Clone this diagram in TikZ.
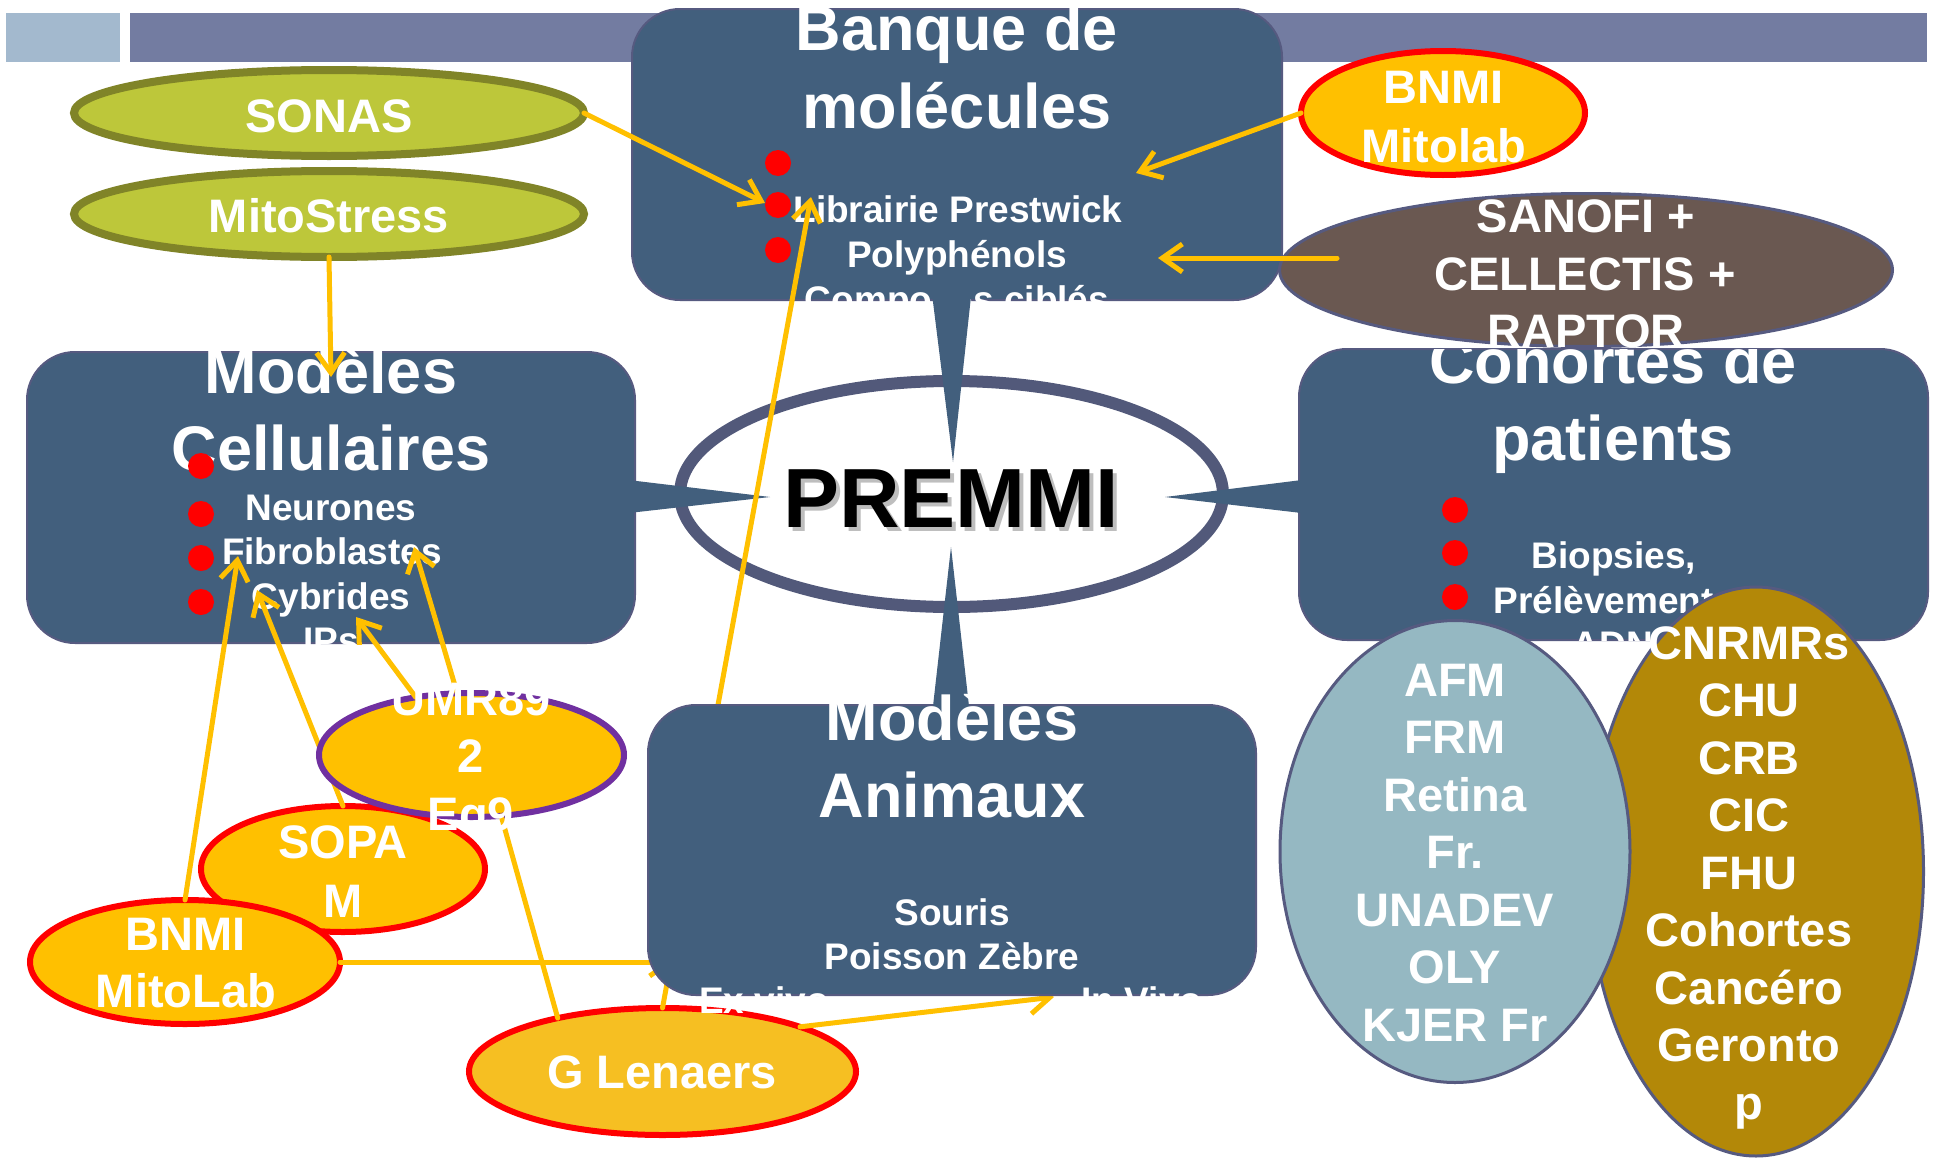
\documentclass[tikz,border=0pt]{standalone}
\usepackage{fontspec}
\setmainfont{Liberation Sans}
\usetikzlibrary{shapes.geometric,arrows.meta}

\definecolor{boxblue}{RGB}{66,95,125}
\definecolor{boxline}{RGB}{86,90,128}
\definecolor{premline}{RGB}{82,89,122}
\definecolor{hdrlight}{RGB}{163,185,206}
\definecolor{hdrdark}{RGB}{115,124,161}
\definecolor{yel}{RGB}{255,192,0}
\definecolor{glenfill}{RGB}{246,191,34}
\definecolor{sonasfill}{RGB}{189,199,58}
\definecolor{sonasline}{RGB}{128,132,40}
\definecolor{sanofifill}{RGB}{106,88,81}
\definecolor{afmfill}{RGB}{149,184,194}
\definecolor{cnrfill}{RGB}{179,136,8}
\definecolor{purp}{RGB}{112,48,160}
\definecolor{shadowgray}{RGB}{190,190,190}

\newcommand\titlefnt{\fontsize{63}{63}\selectfont\bfseries}
\newcommand\ellfnt{\fontsize{47}{47}\selectfont\bfseries}
\newcommand\bulfnt{\fontsize{37}{37}\selectfont\bfseries}
\newcommand\premfnt{\fontsize{84}{84}\selectfont\bfseries}

\begin{document}
\begin{tikzpicture}[x=1pt,y=-1pt,
  box/.style={rectangle,draw=boxline,line width=2pt,fill=boxblue,rounded corners=48pt,inner sep=0,outer sep=0},
  ell/.style={ellipse,inner sep=0,outer sep=0},
  yellell/.style={ell,fill=yel,draw=red,line width=6pt},
  tt/.style={text=white,font=\titlefnt,anchor=base,inner sep=0},
  et/.style={text=white,font=\ellfnt,anchor=base,inner sep=0},
  bt/.style={text=white,font=\bulfnt,anchor=base,inner sep=0},
  wedge/.style={fill=boxblue},
  dot/.style={fill=red},
  arr/.style={draw=yel,line width=5pt,line cap=round,-{Straight Barb[length=20pt,width=28pt]}},
  plain/.style={draw=yel,line width=5pt,line cap=round}
]
\useasboundingbox (0,0) rectangle (1933,1159);
\fill[white] (0,0) rectangle (1933,1159);

% header
\fill[hdrlight] (6,12.5) rectangle (120,61.5);
\fill[hdrdark] (130,12.5) rectangle (1927,61.5);

% main boxes
\node[box,minimum width=650pt,minimum height=291pt] (banque) at (957,154.5) {};
\node[box,minimum width=608pt,minimum height=291pt] (cellu) at (331,497.5) {};

% PREMMI ellipse
\node[ell,draw=premline,fill=white,line width=12pt,minimum width=543pt,minimum height=226pt] (premmi) at (951.5,494) {};

% SANOFI
\node[ell,fill=sanofifill,draw=boxline,line width=3pt,minimum width=613pt,minimum height=153pt] (sanofi) at (1586,270) {};
\node[et] (sa1) at (1586,232) {SANOFI +};
\node[et] (sa2) at (1585,290) {CELLECTIS +};
\node[et] (sa3) at (1586,347) {RAPTOR};

% Cohortes box
\node[box,minimum width=629pt,minimum height=291pt] (coh) at (1613.5,494.5) {};
\begin{scope}
\clip[rounded corners=48pt] (1299,349) rectangle (1928,640);
\node[tt] (co1) at (1613,383) {Cohortes de};
\node[tt] (co2) at (1613,460) {patients};
\node[bt] (co3) at (1614,568) {Biopsies,};
\node[bt] (co4) at (1614,613) {Prélèvements};
\node[bt] (co5) at (1613,657) {ADN};
\fill[dot] (1455,510) circle (13);
\fill[dot] (1455,553) circle (13);
\fill[dot] (1455,597) circle (13);
\end{scope}

% Banque text
\node[tt] (bq1) at (957,50) {Banque de};
\node[tt] (bq2) at (957,128) {molécules};
\node[bt] (bq3) at (958,222) {Librairie Prestwick};
\node[bt] (bq4) at (957,267) {Polyphénols};
\node[bt] (bq5) at (957,312) {Composés ciblés};
\fill[dot] (778,163) circle (13);
\fill[dot] (778,205) circle (13);
\fill[dot] (778,250) circle (13);

% Cellulaires text
\node[tt] (ce1) at (331,393) {Modèles};
\node[tt] (ce2) at (331,470) {Cellulaires};
\node[bt] (ce3) at (331,520) {Neurones};
\node[bt] (ce4) at (332,564.5) {Fibroblastes};
\node[bt] (ce5) at (331,609) {Cybrides};
\node[bt] (ce6) at (331,653.5) {IPs};
\fill[dot] (201,466) circle (13);
\fill[dot] (201,514) circle (13);
\fill[dot] (201,558) circle (13);
\fill[dot] (201,602) circle (13);

% wedges
\fill[wedge] (930,278) -- (973,278) -- (953,462) -- cycle;
\fill[wedge] (620,479) -- (770,497) -- (620,514) -- cycle;
\fill[wedge] (1310,479) -- (1165,497) -- (1310,514) -- cycle;

% PREMMI text
\node[font=\premfnt,text=shadowgray,anchor=base,inner sep=0] (premsh) at (955,531) {PREMMI};
\node[font=\premfnt,text=black,anchor=base,inner sep=0] (premtxt) at (951,527) {PREMMI};

% top-left and top-right ellipses
\node[ell,fill=sonasfill,draw=sonasline,line width=8pt,minimum width=510pt,minimum height=86pt] (sonas) at (329,113) {};
\node[et] (so1) at (329,132) {SONAS};
\node[ell,fill=sonasfill,draw=sonasline,line width=8pt,minimum width=510pt,minimum height=86pt] (mito) at (329,214) {};
\node[et] (mi1) at (329,232) {MitoStress};
\node[yellell,minimum width=284pt,minimum height=124pt] (bnmione) at (1443,113) {};
\node[et] (bn1) at (1444,103) {BNMI};
\node[et] (bn2) at (1444,162) {Mitolab};

% coordinates
\coordinate (tipA) at (765,203);
\coordinate (tipB) at (331,377);
\coordinate (tipC) at (1136,173);
\coordinate (srcD) at (1337,258);
\coordinate (tipD) at (1158,258);
\coordinate (tipE) at (811,197);
\coordinate (tipF) at (674,962);
\coordinate (tipG) at (238,556);
\coordinate (tipH) at (257,590);
\coordinate (tipI) at (356,617);
\coordinate (tipJ) at (414,547);
\coordinate (tipL) at (1054,997);

% lower-left ellipses
\node[yellell,minimum width=284pt,minimum height=126pt] (sopam) at (343,869) {};
\draw[arr] (sopam.north) -- (tipH);
\node[ell,fill=yel,draw=purp,line width=6pt,minimum width=305pt,minimum height=124pt] (umr) at (471.5,755) {};
\node[yellell,minimum width=310pt,minimum height=124pt] (bnmitwo) at (185,962) {};
\node[ell,fill=glenfill,draw=red,line width=6pt,minimum width=387pt,minimum height=127pt] (glen) at (662.5,1071.5) {};

% lines behind Modeles Animaux
\draw[arr] (glen.north) -- (tipE);
\draw[arr] (bnmitwo.east) -- (tipF);
\draw[arr] (glen.18) -- (tipL);

% Modeles Animaux
\node[box,minimum width=608pt,minimum height=290pt] (anim) at (952,850) {};
\fill[wedge] (932,715) -- (970,715) -- (951,547) -- cycle;
\node[tt] (an1) at (952,740) {Modèles};
\node[tt] (an2) at (952,817) {Animaux};
\node[bt] (an3) at (952,925) {Souris};
\node[bt] (an4) at (952,969) {Poisson Zèbre};
\node[bt] (an5) at (764,1013) {Ex vivo};
\node[bt] (an6) at (1142,1013) {In Vivo};

% arrows
\draw[arr] (sonas.east) -- (tipA);
\draw[arr] (mito.south) -- (tipB);
\draw[arr] (bnmione.west) -- (tipC);
\draw[arr] (srcD) -- (tipD);
\draw[arr] (bnmitwo.north) -- (tipG);
\draw[arr] (umr.134) -- (tipI);
\draw[arr] (umr.103) -- (tipJ);
\draw[plain] (umr.-64) -- (glen.153);

% ellipse texts lower-left
\node[et] (sp1) at (343,858) {SOPA};
\node[et] (sp2) at (343,917) {M};
\node[et] (um1) at (471,715) {UMR89};
\node[et] (um2) at (471,772) {2};
\node[et] (um3) at (471,830) {Eq9};
\node[et] (bb1) at (186,950) {BNMI};
\node[et] (bb2) at (186,1007) {MitoLab};
\node[et] (gl1) at (662,1088) {G Lenaers};

% right ellipses
\node[ell,fill=cnrfill,draw=boxline,line width=3pt,minimum width=335pt,minimum height=569pt] (cnr) at (1756,871.5) {};
\node[ell,fill=afmfill,draw=boxline,line width=3pt,minimum width=350pt,minimum height=462pt] (afm) at (1455,851.5) {};
\node[et] (af1) at (1455,696) {AFM};
\node[et] (af2) at (1455,753.5) {FRM};
\node[et] (af3) at (1455,811) {Retina};
\node[et] (af4) at (1455,868.5) {Fr.};
\node[et] (af5) at (1455,926) {UNADEV};
\node[et] (af6) at (1455,983.5) {OLY};
\node[et] (af7) at (1455,1041) {KJER Fr};
\node[et] (cn1) at (1749,659) {CNRMRs};
\node[et] (cn2) at (1749,716.5) {CHU};
\node[et] (cn3) at (1749,774) {CRB};
\node[et] (cn4) at (1749,831.5) {CIC};
\node[et] (cn5) at (1749,889) {FHU};
\node[et] (cn6) at (1749,946.5) {Cohortes};
\node[et] (cn7) at (1749,1004) {Cancéro};
\node[et] (cn8) at (1749,1061.5) {Geronto};
\node[et] (cn9) at (1749,1119) {p};
\end{tikzpicture}
\end{document}
